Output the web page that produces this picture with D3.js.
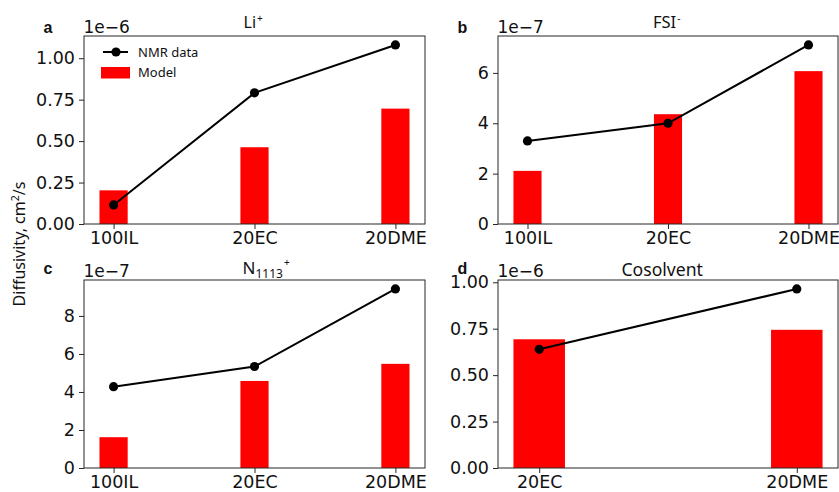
<!DOCTYPE html>
<html><head><meta charset="utf-8">
<script src="https://cdn.jsdelivr.net/npm/d3@7"></script>
<style>body{margin:0;background:#fff}svg{display:block}</style>
</head><body>
<svg id="c" width="839" height="492"></svg>
<script>
// ---- data ----
const catsIonic = ["100IL", "20EC", "20DME"];
const catsCosolvent = ["20EC", "20DME"];

const liModel = [0.203, 0.463, 0.696];      // x1e-6
const liNMR   = [0.115, 0.791, 1.080];
const fsiModel = [2.11, 4.36, 6.07];        // x1e-7
const fsiNMR   = [3.30, 4.00, 7.11];
const nModel = [1.62, 4.58, 5.48];          // x1e-7
const nNMR   = [4.28, 5.34, 9.42];
const coModel = [0.693, 0.744];             // x1e-6
const coNMR   = [0.639, 0.964];

const ticksA = [0, 0.25, 0.5, 0.75, 1.0];
const ticksB = [0, 2, 4, 6];
const ticksC = [0, 2, 4, 6, 8];
const ticksD = [0, 0.25, 0.5, 0.75, 1.0];

const panels = [
  {id:"a", title:"Li", sup:"+", sub:null, exp:"1e\u22126", cats:catsIonic, model:liModel, nmr:liNMR, ticks:ticksA, fmt:".2f",
   box:{l:84, r:425, t:36, b:224}, tx:243.5, ty:27.7, tfs:16, ly:33.4, legend:true},
  {id:"b", title:"FSI", sup:"-", sub:null, exp:"1e\u22127", cats:catsIonic, model:fsiModel, nmr:fsiNMR, ticks:ticksB, fmt:"d",
   box:{l:498, r:838, t:36, b:224}, tx:653, ty:27.7, tfs:16.5, ly:33.4},
  {id:"c", title:"N", sup:"+", sub:"1113", exp:"1e\u22127", cats:catsIonic, model:nModel, nmr:nNMR, ticks:ticksC, fmt:"d",
   box:{l:84, r:425, t:280, b:468}, tx:242.5, ty:273.5, tfs:17, ly:273.5},
  {id:"d", title:"Cosolvent", sup:null, sub:null, exp:"1e\u22126", cats:catsCosolvent, model:coModel, nmr:coNMR, ticks:ticksD, fmt:".2f",
   box:{l:498, r:838, t:280, b:468}, tx:621.5, ty:276, tfs:17.6, ly:273.5},
];

const svg = d3.select("#c");
const tickFont = "DejaVu Sans, sans-serif";
const textFont = "'Noto Sans', 'Open Sans', sans-serif";
const dark = "#262626";

panels.forEach(p => {
  const n = p.cats.length;
  const pad = 0.05 * (n - 1 + 0.2);
  const x = d3.scaleLinear().domain([-0.1 - pad, n - 1 + 0.1 + pad]).range([p.box.l, p.box.r]);
  const ymax = d3.max(p.model.concat(p.nmr)) * 1.05;
  const y = d3.scaleLinear().domain([0, ymax]).range([p.box.b, p.box.t]);
  const g = svg.append("g");

  // bars
  g.selectAll("rect.bar").data(p.model).join("rect")
    .attr("x", (d,i) => x(i - 0.1)).attr("width", (d,i) => x(i + 0.1) - x(i - 0.1))
    .attr("y", d => y(d)).attr("height", d => y(0) - y(d))
    .attr("fill", "#ff0000");

  // line
  const line = d3.line().x((d,i) => x(i)).y(d => y(d));
  g.append("path").datum(p.nmr).attr("d", line).attr("fill", "none")
    .attr("stroke", "#000").attr("stroke-width", 2);
  g.selectAll("circle").data(p.nmr).join("circle")
    .attr("cx", (d,i) => x(i)).attr("cy", d => y(d)).attr("r", 4.6).attr("fill", "#000");

  // axes
  const yAxis = d3.axisLeft(y).tickValues(p.ticks).tickFormat(d3.format(p.fmt)).tickSize(5).tickPadding(4);
  const ya = g.append("g").attr("transform", `translate(${p.box.l},0)`).call(yAxis);
  const xAxis = d3.axisBottom(x).tickValues(d3.range(n)).tickFormat(i => p.cats[i]).tickSize(5).tickPadding(3);
  const xa = g.append("g").attr("transform", `translate(0,${p.box.b})`).call(xAxis);
  [ya, xa].forEach(a => {
    a.select(".domain").remove();
    a.selectAll("line").attr("stroke", dark).attr("stroke-width", 1);
    a.selectAll("text").attr("fill", "#111").style("font-family", tickFont).style("font-size", "17.5px");
  });

  // frame
  g.append("rect").attr("x", p.box.l).attr("y", p.box.t)
    .attr("width", p.box.r - p.box.l).attr("height", p.box.b - p.box.t)
    .attr("fill", "none").attr("stroke", dark).attr("stroke-width", 1);

  // offset text
  g.append("text").attr("x", p.box.l - 0.5).attr("y", p.box.t - 3)
    .style("font-family", tickFont).style("font-size", "17px").attr("fill", "#111").text(p.exp);

  // panel letter
  g.append("text").attr("x", p.box.l - 40.5).attr("y", p.ly)
    .style("font-family", "Liberation Sans, Arial, sans-serif").style("font-weight", "bold").style("font-size", "16px")
    .attr("fill", "#111").text(p.id);

  // title
  const tx = g.append("text").attr("x", p.tx).attr("y", p.ty)
    .style("font-family", textFont).style("font-size", p.tfs + "px").attr("fill", "#111");
  tx.append("tspan").text(p.title);
  if (p.sub) tx.append("tspan").attr("dy", 4.4).style("font-size", "12px").text(p.sub);
  if (p.sup) tx.append("tspan").attr("dx", 1).attr("dy", p.sub ? -11.5 : -6).style("font-size", "10px").text(p.sup);

  // legend
  if (p.legend) {
    const lg = g.append("g");
    const lx = p.box.l + 18, ly = p.box.t + 16;
    lg.append("line").attr("x1", lx + 1).attr("x2", lx + 26).attr("y1", ly).attr("y2", ly)
      .attr("stroke", "#000").attr("stroke-width", 2);
    lg.append("circle").attr("cx", lx + 14).attr("cy", ly).attr("r", 4.6).attr("fill", "#000");
    lg.append("text").attr("x", lx + 36).attr("y", ly + 4.5).style("font-family", textFont).style("font-size", "13px")
      .attr("fill", "#111").text("NMR data");
    lg.append("rect").attr("x", lx - 1).attr("y", ly + 15).attr("width", 29).attr("height", 11.5).attr("fill", "#ff0000");
    lg.append("text").attr("x", lx + 36).attr("y", ly + 25).style("font-family", textFont).style("font-size", "13px")
      .attr("fill", "#111").text("Model");
  }
});

// shared y label
const yl = svg.append("text").attr("transform", "translate(25,244) rotate(-90)")
  .attr("text-anchor", "middle").style("font-family", textFont).style("font-size", "16px").attr("fill", "#111");
yl.append("tspan").text("Diffusivity, cm");
yl.append("tspan").attr("dy", -6).style("font-size", "10.5px").text("2");
yl.append("tspan").attr("dy", 6).text("/s");
</script>
</body></html>
